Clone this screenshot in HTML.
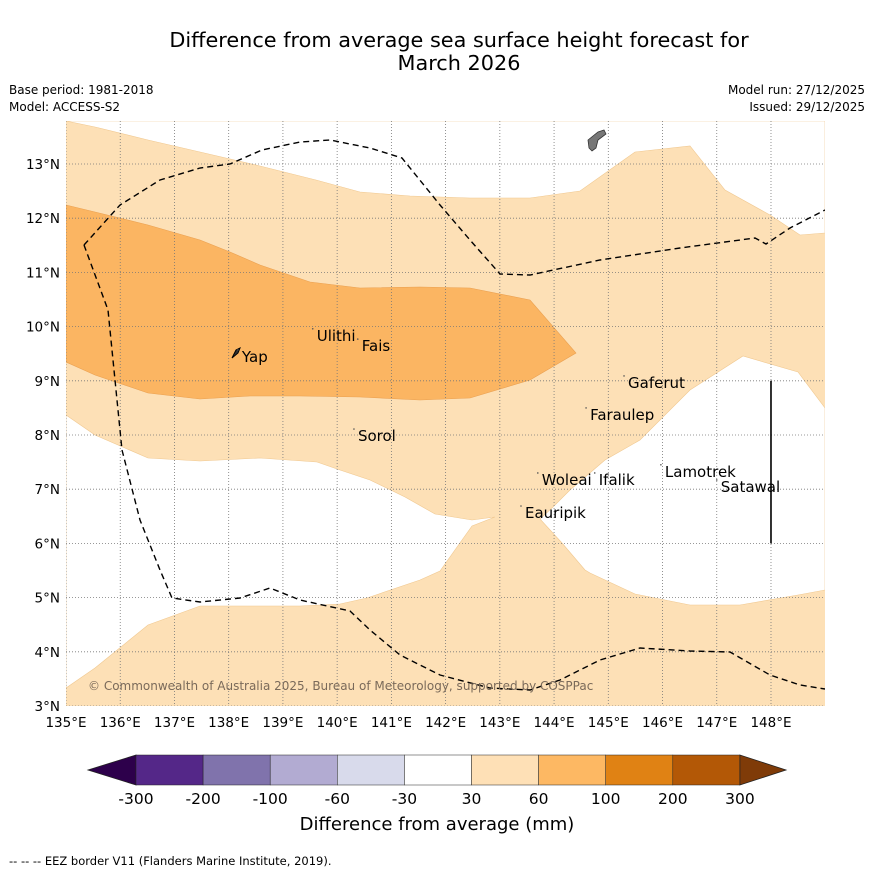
<!DOCTYPE html>
<html><head><meta charset="utf-8">
<style>
body{margin:0;background:#fff;font-family:"Liberation Sans","DejaVu Sans",sans-serif;}
svg text{font-family:"DejaVu Sans","Liberation Sans",sans-serif;}
</style></head>
<body>
<svg id="chart" width="873" height="873" viewBox="0 0 873 873" xmlns="http://www.w3.org/2000/svg">
<rect width="873" height="873" fill="#fff"/>
<text x="459" y="47" font-size="20.8" text-anchor="middle">Difference from average sea surface height forecast for</text>
<text x="459" y="70" font-size="20.8" text-anchor="middle">March 2026</text>
<text x="9" y="94" font-size="12">Base period: 1981-2018</text>
<text x="9" y="111" font-size="12">Model: ACCESS-S2</text>
<text x="865" y="94" font-size="12" text-anchor="end">Model run: 27/12/2025</text>
<text x="865" y="111" font-size="12" text-anchor="end">Issued: 29/12/2025</text>
<defs><clipPath id="mapclip"><rect x="66" y="121" width="759" height="585"/></clipPath></defs>
<g id="map" clip-path="url(#mapclip)"></g>
<g id="axes"></g>
<g id="cbar"></g>
<text x="437" y="830" font-size="18" text-anchor="middle">Difference from average (mm)</text>
<text x="9" y="865" font-size="11.5">--  --  -- EEZ border V11 (Flanders Marine Institute, 2019).</text>
</svg>
<script>
// pixel-space polygons (map contours)
const topWhite=[[66,121],[95,127],[148,140],[200,152],[260,166],[316,180],[360,192],[410,196],[470,198],[530,198],[580,191],[635,152],[690,146],[725,190],[770,215],[800,235],[825,233],[825,121]];
const orange=[[66,205],[95,212],[148,225],[200,240],[230,252],[260,265],[310,282],[360,288],[420,287],[470,288],[530,300],[576,353],[530,380],[470,398],[420,400],[360,397],[300,396],[250,396],[200,399],[148,393],[95,375],[66,362]];
const leftWhite=[[66,415],[95,435],[148,458],[200,461],[260,458],[317,462],[340,470],[370,480],[405,497],[435,514],[472,520],[495,517],[472,526],[440,571],[420,580],[367,598],[340,604],[300,606],[200,606],[148,625],[95,668],[66,688]];
const rightWhite=[[825,408],[798,372],[743,356],[690,390],[640,440],[605,460],[570,490],[553,507],[540,519],[562,543],[585,570],[590,573],[635,594],[690,605],[740,605],[798,595],[825,590]];
const eezA=[[84,245],[108,310],[115,380],[122,450],[140,520],[160,570],[172,598],[200,602],[240,598],[270,588],[300,600],[350,611],[370,630],[400,655],[440,675],[490,688],[530,690],[560,680],[600,660],[640,648],[690,651],[730,652],[770,675],[800,685],[825,689]];
const eezB=[[84,245],[120,205],[160,180],[200,168],[230,164],[262,150],[300,142],[330,140],[370,148],[402,158],[440,205],[470,240],[500,274],[530,275],[600,260],[680,248],[755,238],[766,244],[790,228],[825,210]];
const lonTicks=[135,136,137,138,139,140,141,142,143,144,145,146,147,148];
const latTicks=[3,4,5,6,7,8,9,10,11,12,13];
const islands=[["Yap",138.17,9.57],["Ulithi",139.55,9.96],["Fais",140.38,9.77],["Gaferut",145.29,9.09],["Faraulep",144.59,8.5],["Sorol",140.31,8.11],["Woleai",143.7,7.3],["Ifalik",144.75,7.3],["Lamotrek",145.97,7.45],["Satawal",147.0,7.17],["Eauripik",143.39,6.69]];
const cbLabels=["-300","-200","-100","-60","-30","30","60","100","200","300"];
const cbColors=["#542788","#8073ac","#b2abd2","#d8daeb","#ffffff","#fee0b6","#fdb863","#e08214","#b35806"];
const NS="http://www.w3.org/2000/svg";
const X=lon=>66+(lon-135)*54.23, Y=lat=>706-(lat-3)*54.2;
function mk(tag,attrs,parent){const e=document.createElementNS(NS,tag);for(const k in attrs)e.setAttribute(k,attrs[k]);parent.appendChild(e);return e;}
const map=document.getElementById('map'),axes=document.getElementById('axes'),cb=document.getElementById('cbar');
const pts=a=>a.map(p=>p.join(',')).join(' ');
let e;
e=mk('rect',{x:66,y:121,width:759,height:585,fill:'#fde0b6'},map);

[[topWhite,'white-region-north'],[leftWhite,'white-region-west'],[rightWhite,'white-region-east']].forEach(([p,n])=>{
 e=mk('polygon',{points:pts(p),fill:'#fff',stroke:'#f0c890','stroke-width':0.6},map);
 
});
e=mk('polygon',{points:pts(orange),fill:'#fbb562',stroke:'#eaa050','stroke-width':0.6},map);

lonTicks.forEach(l=>{e=mk('line',{x1:X(l),x2:X(l),y1:121,y2:706,stroke:'#777','stroke-width':0.8,'stroke-dasharray':'1,2'},map);
 });
latTicks.forEach(l=>{e=mk('line',{x1:66,x2:825,y1:Y(l),y2:Y(l),stroke:'#777','stroke-width':0.8,'stroke-dasharray':'1,2'},map);
 });
[eezA,eezB].forEach(p=>{e=mk('polyline',{points:pts(p),fill:'none',stroke:'#000','stroke-width':1.4,'stroke-dasharray':'6,4'},map);
 });
e=mk('line',{x1:X(148),x2:X(148),y1:Y(9),y2:Y(6),stroke:'#000','stroke-width':1.6},map);

e=mk('path',{d:'M588,140 L598,132 L604,130 L606,134 L598,140 L596,148 L592,151 L589,148 Z',fill:'#777',stroke:'#333','stroke-width':0.8},map);

e=mk('path',{d:'M232,358 L236,350 L240,348 L238,353 Z',fill:'#333',stroke:'#000','stroke-width':1},map);

islands.forEach(([n,lon,lat])=>{
 e=mk('circle',{cx:X(lon),cy:Y(lat),r:0.8,fill:'#555'},map);
 
 e=mk('text',{x:X(lon)+4,y:Y(lat)+12,'font-size':15},map);e.textContent=n;
 
});
e=mk('text',{x:88,y:690,'font-size':12,fill:'#7a6a5a'},map);e.textContent='© Commonwealth of Australia 2025, Bureau of Meteorology, supported by COSPPac';

lonTicks.forEach(l=>{e=mk('text',{x:X(l),y:727,'font-size':13.5,'text-anchor':'middle'},axes);e.textContent=l+'°E';
 });
latTicks.forEach(l=>{e=mk('text',{x:60,y:Y(l)+5,'font-size':13.5,'text-anchor':'end'},axes);e.textContent=l+'°N';
 });
// colorbar
const cx0=136,cw=67.1,cy=755,ch=30;
e=mk('polygon',{points:`${cx0},${cy} ${cx0},${cy+ch} 88,${cy+ch/2}`,fill:'#2d004b',stroke:'#222','stroke-width':0.8},cb);

cbColors.forEach((c,i)=>{e=mk('rect',{x:cx0+i*cw,y:cy,width:cw,height:ch,fill:c,stroke:'#222','stroke-width':0.5},cb);
 });
const cx1=cx0+cbColors.length*cw;
e=mk('polygon',{points:`${cx1},${cy} ${cx1},${cy+ch} 786,${cy+ch/2}`,fill:'#7f3b08',stroke:'#222','stroke-width':0.8},cb);

cbLabels.forEach((t,i)=>{e=mk('text',{x:cx0+i*cw,y:804,'font-size':15.5,'text-anchor':'middle'},cb);e.textContent=t;
 });
</script>
</body></html>
